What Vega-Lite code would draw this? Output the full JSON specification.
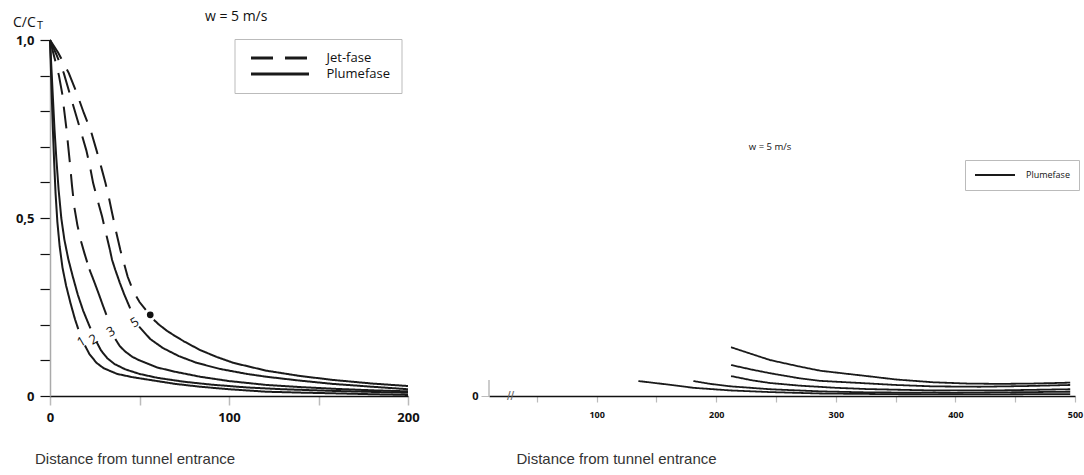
{
  "$schema": "https://vega.github.io/schema/vega-lite/v6.json",
  "padding": {"left": 12, "top": 9, "right": 4, "bottom": 4},
  "background": "white",
  "config": {
    "view": {"stroke": null},
    "axis": {"grid": false, "labelFont": "Open Sans", "labelFontWeight": "bold", "titleFont": "Liberation Sans", "titleFontWeight": "normal", "titleColor": "#333"}
  },
  "datasets": {
    "left": [
      {"s": "1a", "ph": "Plumefase", "x": 0, "y": 1}, {"s": "1a", "ph": "Plumefase", "x": 0.5, "y": 0.92}, {"s": "1a", "ph": "Plumefase", "x": 1, "y": 0.84}, {"s": "1a", "ph": "Plumefase", "x": 1.6, "y": 0.75}, {"s": "1a", "ph": "Plumefase", "x": 2.3, "y": 0.66}, {"s": "1a", "ph": "Plumefase", "x": 3.1, "y": 0.57}, {"s": "1a", "ph": "Plumefase", "x": 4.1, "y": 0.49}, {"s": "1a", "ph": "Plumefase", "x": 5.4, "y": 0.42}, {"s": "1a", "ph": "Plumefase", "x": 7, "y": 0.36}, {"s": "1a", "ph": "Plumefase", "x": 9, "y": 0.31}, {"s": "1a", "ph": "Plumefase", "x": 11.5, "y": 0.26}, {"s": "1a", "ph": "Plumefase", "x": 14, "y": 0.215}, {"s": "1a", "ph": "Plumefase", "x": 15.8, "y": 0.188},
      {"s": "1b", "ph": "Plumefase", "x": 19.5, "y": 0.142}, {"s": "1b", "ph": "Plumefase", "x": 22, "y": 0.118}, {"s": "1b", "ph": "Plumefase", "x": 26, "y": 0.093}, {"s": "1b", "ph": "Plumefase", "x": 30, "y": 0.078}, {"s": "1b", "ph": "Plumefase", "x": 37.5, "y": 0.062}, {"s": "1b", "ph": "Plumefase", "x": 46, "y": 0.053}, {"s": "1b", "ph": "Plumefase", "x": 56, "y": 0.045}, {"s": "1b", "ph": "Plumefase", "x": 70, "y": 0.034}, {"s": "1b", "ph": "Plumefase", "x": 84, "y": 0.026}, {"s": "1b", "ph": "Plumefase", "x": 100, "y": 0.019}, {"s": "1b", "ph": "Plumefase", "x": 121, "y": 0.012}, {"s": "1b", "ph": "Plumefase", "x": 140, "y": 0.0095}, {"s": "1b", "ph": "Plumefase", "x": 158, "y": 0.0076}, {"s": "1b", "ph": "Plumefase", "x": 180, "y": 0.005}, {"s": "1b", "ph": "Plumefase", "x": 200, "y": 0.003},
      {"s": "2a", "ph": "Plumefase", "x": 0, "y": 1}, {"s": "2a", "ph": "Plumefase", "x": 0.8, "y": 0.92}, {"s": "2a", "ph": "Plumefase", "x": 1.6, "y": 0.84}, {"s": "2a", "ph": "Plumefase", "x": 2.5, "y": 0.75}, {"s": "2a", "ph": "Plumefase", "x": 3.5, "y": 0.67}, {"s": "2a", "ph": "Plumefase", "x": 4.8, "y": 0.58}, {"s": "2a", "ph": "Plumefase", "x": 6.3, "y": 0.5}, {"s": "2a", "ph": "Plumefase", "x": 8, "y": 0.44}, {"s": "2a", "ph": "Plumefase", "x": 10.2, "y": 0.385}, {"s": "2a", "ph": "Plumefase", "x": 12.6, "y": 0.338}, {"s": "2a", "ph": "Plumefase", "x": 15.5, "y": 0.285}, {"s": "2a", "ph": "Plumefase", "x": 18.5, "y": 0.24}, {"s": "2a", "ph": "Plumefase", "x": 21.5, "y": 0.203}, {"s": "2a", "ph": "Plumefase", "x": 22.6, "y": 0.19},
      {"s": "2b", "ph": "Plumefase", "x": 26, "y": 0.152}, {"s": "2b", "ph": "Plumefase", "x": 28.5, "y": 0.128}, {"s": "2b", "ph": "Plumefase", "x": 32, "y": 0.106}, {"s": "2b", "ph": "Plumefase", "x": 36, "y": 0.09}, {"s": "2b", "ph": "Plumefase", "x": 42, "y": 0.075}, {"s": "2b", "ph": "Plumefase", "x": 50, "y": 0.062}, {"s": "2b", "ph": "Plumefase", "x": 60, "y": 0.051}, {"s": "2b", "ph": "Plumefase", "x": 75, "y": 0.04}, {"s": "2b", "ph": "Plumefase", "x": 90, "y": 0.032}, {"s": "2b", "ph": "Plumefase", "x": 110, "y": 0.024}, {"s": "2b", "ph": "Plumefase", "x": 130, "y": 0.019}, {"s": "2b", "ph": "Plumefase", "x": 160, "y": 0.014}, {"s": "2b", "ph": "Plumefase", "x": 200, "y": 0.009},
      {"s": "3j", "ph": "Jet-fase", "x": 0, "y": 1}, {"s": "3j", "ph": "Jet-fase", "x": 2.5, "y": 0.95}, {"s": "3j", "ph": "Jet-fase", "x": 5, "y": 0.9}, {"s": "3j", "ph": "Jet-fase", "x": 6.8, "y": 0.85}, {"s": "3j", "ph": "Jet-fase", "x": 8.1, "y": 0.795}, {"s": "3j", "ph": "Jet-fase", "x": 9.2, "y": 0.75}, {"s": "3j", "ph": "Jet-fase", "x": 10.2, "y": 0.7}, {"s": "3j", "ph": "Jet-fase", "x": 11.2, "y": 0.65}, {"s": "3j", "ph": "Jet-fase", "x": 12.3, "y": 0.59}, {"s": "3j", "ph": "Jet-fase", "x": 13.6, "y": 0.53}, {"s": "3j", "ph": "Jet-fase", "x": 15.3, "y": 0.48}, {"s": "3j", "ph": "Jet-fase", "x": 17.3, "y": 0.435}, {"s": "3j", "ph": "Jet-fase", "x": 19.3, "y": 0.4}, {"s": "3j", "ph": "Jet-fase", "x": 21, "y": 0.372}, {"s": "3j", "ph": "Jet-fase", "x": 22, "y": 0.356},
      {"s": "3p", "ph": "Plumefase", "x": 22, "y": 0.356}, {"s": "3p", "ph": "Plumefase", "x": 24.4, "y": 0.325}, {"s": "3p", "ph": "Plumefase", "x": 27, "y": 0.29}, {"s": "3p", "ph": "Plumefase", "x": 29.5, "y": 0.255}, {"s": "3p", "ph": "Plumefase", "x": 31.5, "y": 0.228},
      {"s": "3q", "ph": "Plumefase", "x": 36.5, "y": 0.16}, {"s": "3q", "ph": "Plumefase", "x": 39, "y": 0.14}, {"s": "3q", "ph": "Plumefase", "x": 42, "y": 0.125}, {"s": "3q", "ph": "Plumefase", "x": 46, "y": 0.11}, {"s": "3q", "ph": "Plumefase", "x": 50, "y": 0.1}, {"s": "3q", "ph": "Plumefase", "x": 60, "y": 0.08}, {"s": "3q", "ph": "Plumefase", "x": 70, "y": 0.068}, {"s": "3q", "ph": "Plumefase", "x": 84, "y": 0.054}, {"s": "3q", "ph": "Plumefase", "x": 100, "y": 0.042}, {"s": "3q", "ph": "Plumefase", "x": 121, "y": 0.031}, {"s": "3q", "ph": "Plumefase", "x": 140, "y": 0.025}, {"s": "3q", "ph": "Plumefase", "x": 160, "y": 0.02}, {"s": "3q", "ph": "Plumefase", "x": 180, "y": 0.016}, {"s": "3q", "ph": "Plumefase", "x": 200, "y": 0.013},
      {"s": "5j", "ph": "Jet-fase", "x": 0, "y": 1}, {"s": "5j", "ph": "Jet-fase", "x": 3.5, "y": 0.96}, {"s": "5j", "ph": "Jet-fase", "x": 7.7, "y": 0.907}, {"s": "5j", "ph": "Jet-fase", "x": 11, "y": 0.85}, {"s": "5j", "ph": "Jet-fase", "x": 14.2, "y": 0.795}, {"s": "5j", "ph": "Jet-fase", "x": 17.4, "y": 0.74}, {"s": "5j", "ph": "Jet-fase", "x": 20.3, "y": 0.69}, {"s": "5j", "ph": "Jet-fase", "x": 22.3, "y": 0.645}, {"s": "5j", "ph": "Jet-fase", "x": 24.1, "y": 0.598}, {"s": "5j", "ph": "Jet-fase", "x": 26.6, "y": 0.55}, {"s": "5j", "ph": "Jet-fase", "x": 29.1, "y": 0.504}, {"s": "5j", "ph": "Jet-fase", "x": 31.6, "y": 0.45}, {"s": "5j", "ph": "Jet-fase", "x": 33.5, "y": 0.41},
      {"s": "5p", "ph": "Plumefase", "x": 33.5, "y": 0.41}, {"s": "5p", "ph": "Plumefase", "x": 34.7, "y": 0.382}, {"s": "5p", "ph": "Plumefase", "x": 36.5, "y": 0.354}, {"s": "5p", "ph": "Plumefase", "x": 39, "y": 0.318}, {"s": "5p", "ph": "Plumefase", "x": 41.5, "y": 0.285}, {"s": "5p", "ph": "Plumefase", "x": 44.8, "y": 0.246},
      {"s": "5q", "ph": "Plumefase", "x": 49.8, "y": 0.195}, {"s": "5q", "ph": "Plumefase", "x": 56, "y": 0.16}, {"s": "5q", "ph": "Plumefase", "x": 63, "y": 0.135}, {"s": "5q", "ph": "Plumefase", "x": 72, "y": 0.112}, {"s": "5q", "ph": "Plumefase", "x": 82, "y": 0.093}, {"s": "5q", "ph": "Plumefase", "x": 95, "y": 0.076}, {"s": "5q", "ph": "Plumefase", "x": 110, "y": 0.062}, {"s": "5q", "ph": "Plumefase", "x": 121, "y": 0.054}, {"s": "5q", "ph": "Plumefase", "x": 140, "y": 0.043}, {"s": "5q", "ph": "Plumefase", "x": 158, "y": 0.034}, {"s": "5q", "ph": "Plumefase", "x": 180, "y": 0.026}, {"s": "5q", "ph": "Plumefase", "x": 200, "y": 0.019},
      {"s": "6j", "ph": "Jet-fase", "x": 0, "y": 1}, {"s": "6j", "ph": "Jet-fase", "x": 4.5, "y": 0.965}, {"s": "6j", "ph": "Jet-fase", "x": 10.5, "y": 0.907}, {"s": "6j", "ph": "Jet-fase", "x": 15, "y": 0.85}, {"s": "6j", "ph": "Jet-fase", "x": 18.9, "y": 0.795}, {"s": "6j", "ph": "Jet-fase", "x": 22.8, "y": 0.745}, {"s": "6j", "ph": "Jet-fase", "x": 26, "y": 0.69}, {"s": "6j", "ph": "Jet-fase", "x": 28.5, "y": 0.645}, {"s": "6j", "ph": "Jet-fase", "x": 31, "y": 0.598}, {"s": "6j", "ph": "Jet-fase", "x": 33, "y": 0.555}, {"s": "6j", "ph": "Jet-fase", "x": 34.7, "y": 0.514}, {"s": "6j", "ph": "Jet-fase", "x": 37, "y": 0.46}, {"s": "6j", "ph": "Jet-fase", "x": 39.3, "y": 0.41}, {"s": "6j", "ph": "Jet-fase", "x": 41.5, "y": 0.37}, {"s": "6j", "ph": "Jet-fase", "x": 43.4, "y": 0.335}, {"s": "6j", "ph": "Jet-fase", "x": 46.5, "y": 0.295}, {"s": "6j", "ph": "Jet-fase", "x": 50, "y": 0.264}, {"s": "6j", "ph": "Jet-fase", "x": 53.5, "y": 0.242},
      {"s": "6p", "ph": "Plumefase", "x": 58, "y": 0.214}, {"s": "6p", "ph": "Plumefase", "x": 61, "y": 0.2}, {"s": "6p", "ph": "Plumefase", "x": 65.4, "y": 0.183}, {"s": "6p", "ph": "Plumefase", "x": 70, "y": 0.168}, {"s": "6p", "ph": "Plumefase", "x": 75, "y": 0.153}, {"s": "6p", "ph": "Plumefase", "x": 83.9, "y": 0.129}, {"s": "6p", "ph": "Plumefase", "x": 93, "y": 0.11}, {"s": "6p", "ph": "Plumefase", "x": 102.5, "y": 0.093}, {"s": "6p", "ph": "Plumefase", "x": 121, "y": 0.071}, {"s": "6p", "ph": "Plumefase", "x": 140, "y": 0.056}, {"s": "6p", "ph": "Plumefase", "x": 158.3, "y": 0.045}, {"s": "6p", "ph": "Plumefase", "x": 180, "y": 0.035}, {"s": "6p", "ph": "Plumefase", "x": 200, "y": 0.028}
    ],
    "labels": [
      {"t": "1", "x": 17.6, "y": 0.152},
      {"t": "2", "x": 24.3, "y": 0.158},
      {"t": "3", "x": 34, "y": 0.18},
      {"t": "5", "x": 47.3, "y": 0.206}
    ],
    "right": [
      {"s": "r1", "ph": "Plumefase", "x": 212.4, "y": 0.0274}, {"s": "r1", "ph": "Plumefase", "x": 230, "y": 0.0235}, {"s": "r1", "ph": "Plumefase", "x": 245, "y": 0.0202}, {"s": "r1", "ph": "Plumefase", "x": 270, "y": 0.0165}, {"s": "r1", "ph": "Plumefase", "x": 287, "y": 0.0142}, {"s": "r1", "ph": "Plumefase", "x": 305, "y": 0.0128}, {"s": "r1", "ph": "Plumefase", "x": 326, "y": 0.0112}, {"s": "r1", "ph": "Plumefase", "x": 350, "y": 0.0093}, {"s": "r1", "ph": "Plumefase", "x": 381.6, "y": 0.0077}, {"s": "r1", "ph": "Plumefase", "x": 410, "y": 0.007}, {"s": "r1", "ph": "Plumefase", "x": 437, "y": 0.0068}, {"s": "r1", "ph": "Plumefase", "x": 465, "y": 0.007}, {"s": "r1", "ph": "Plumefase", "x": 496, "y": 0.0075},
      {"s": "r2", "ph": "Plumefase", "x": 212.4, "y": 0.0174}, {"s": "r2", "ph": "Plumefase", "x": 230, "y": 0.0148}, {"s": "r2", "ph": "Plumefase", "x": 245, "y": 0.0128}, {"s": "r2", "ph": "Plumefase", "x": 270, "y": 0.0099}, {"s": "r2", "ph": "Plumefase", "x": 287, "y": 0.0085}, {"s": "r2", "ph": "Plumefase", "x": 326, "y": 0.0071}, {"s": "r2", "ph": "Plumefase", "x": 350, "y": 0.0062}, {"s": "r2", "ph": "Plumefase", "x": 381.6, "y": 0.0054}, {"s": "r2", "ph": "Plumefase", "x": 420, "y": 0.0052}, {"s": "r2", "ph": "Plumefase", "x": 460, "y": 0.0056}, {"s": "r2", "ph": "Plumefase", "x": 496, "y": 0.0062},
      {"s": "r3", "ph": "Plumefase", "x": 212.4, "y": 0.0112}, {"s": "r3", "ph": "Plumefase", "x": 230, "y": 0.0088}, {"s": "r3", "ph": "Plumefase", "x": 245, "y": 0.0073}, {"s": "r3", "ph": "Plumefase", "x": 270, "y": 0.0058}, {"s": "r3", "ph": "Plumefase", "x": 300, "y": 0.0046}, {"s": "r3", "ph": "Plumefase", "x": 326, "y": 0.0039}, {"s": "r3", "ph": "Plumefase", "x": 381.6, "y": 0.0031}, {"s": "r3", "ph": "Plumefase", "x": 440, "y": 0.0032}, {"s": "r3", "ph": "Plumefase", "x": 496, "y": 0.0038},
      {"s": "r4", "ph": "Plumefase", "x": 180.9, "y": 0.0084}, {"s": "r4", "ph": "Plumefase", "x": 195, "y": 0.0068}, {"s": "r4", "ph": "Plumefase", "x": 212.4, "y": 0.0054}, {"s": "r4", "ph": "Plumefase", "x": 245, "y": 0.0038}, {"s": "r4", "ph": "Plumefase", "x": 287, "y": 0.0026}, {"s": "r4", "ph": "Plumefase", "x": 330, "y": 0.002}, {"s": "r4", "ph": "Plumefase", "x": 400, "y": 0.0018}, {"s": "r4", "ph": "Plumefase", "x": 496, "y": 0.0024},
      {"s": "r5", "ph": "Plumefase", "x": 134.9, "y": 0.0084}, {"s": "r5", "ph": "Plumefase", "x": 150, "y": 0.0072}, {"s": "r5", "ph": "Plumefase", "x": 165, "y": 0.006}, {"s": "r5", "ph": "Plumefase", "x": 180.9, "y": 0.0046}, {"s": "r5", "ph": "Plumefase", "x": 212.4, "y": 0.0031}, {"s": "r5", "ph": "Plumefase", "x": 245, "y": 0.0022}, {"s": "r5", "ph": "Plumefase", "x": 287, "y": 0.0014}, {"s": "r5", "ph": "Plumefase", "x": 350, "y": 0.001}, {"s": "r5", "ph": "Plumefase", "x": 420, "y": 0.0009}, {"s": "r5", "ph": "Plumefase", "x": 496, "y": 0.0011}
    ]
  },
  "hconcat": [
    {
      "width": 358,
      "height": 356,
      "layer": [
        {
          "data": {"name": "left"},
          "mark": {"type": "line", "color": "#1a1a1a", "strokeWidth": 2, "clip": false},
          "encoding": {
            "x": {"field": "x", "type": "quantitative", "scale": {"domain": [0, 200], "nice": false, "zero": false},
              "axis": {"values": [0, 50, 100, 150, 200], "tickCount": 20, "labelExpr": "datum.value % 100 == 0 ? datum.label : ''", "labelFlush": false, "labelOverlap": false, "tickSize": 9, "tickColor": "#bbb", "tickWidth": 1.5, "domainColor": "#111", "domainWidth": 1.5, "labelFontSize": 13, "labelPadding": 6, "labelColor": "#111",
                "title": "Distance from tunnel entrance", "titleAnchor": "start", "titleAlign": "left", "titleX": -15.5, "titleY": 67, "titleBaseline": "alphabetic", "titleFontSize": 15}},
            "y": {"field": "y", "type": "quantitative", "scale": {"domain": [0, 1], "nice": false},
              "axis": {"values": [0, 0.1, 0.2, 0.3, 0.4, 0.5, 0.6, 0.7, 0.8, 0.9, 1], "tickCount": 20, "labelExpr": "datum.value == 1 ? '1,0' : (datum.value == 0.5 ? '0,5' : (datum.value == 0 ? '0' : ''))", "labelOverlap": false, "tickSize": 10, "tickColor": "#111", "tickWidth": 1.2, "domainColor": "#aaa", "domainWidth": 1.5, "labelFontSize": 13, "labelPadding": 6, "labelColor": "#111",
                "title": "C/C", "titleAngle": 0, "titleX": -37.5, "titleY": -14, "titleAlign": "left", "titleBaseline": "alphabetic", "titleFont": "Open Sans", "titleFontSize": 14, "titleColor": "#111"}},
            "detail": {"field": "s"},
            "strokeDash": {"field": "ph", "type": "nominal", "scale": {"domain": ["Jet-fase", "Plumefase"], "range": [[22, 12], [1, 0]]},
              "legend": {"orient": "none", "legendX": 184.5, "legendY": -1, "title": null, "symbolType": "stroke", "symbolSize": 3364, "symbolStrokeWidth": 3, "symbolStrokeColor": "#1a1a1a", "labelFontSize": 13, "labelFont": "Open Sans", "labelColor": "#111", "strokeColor": "#bbb", "fillColor": "white", "padding": 11, "clipHeight": 16, "labelOffset": 16, "rowPadding": 0, "symbolOffset": 4}}
          }
        },
        {
          "data": {"name": "labels"},
          "mark": {"type": "text", "font": "Open Sans", "fontSize": 13, "color": "#111", "angle": 330},
          "encoding": {
            "x": {"field": "x", "type": "quantitative", "title": "Distance from tunnel entrance"},
            "y": {"field": "y", "type": "quantitative", "title": "C/C"},
            "text": {"field": "t"}
          }
        },
        {
          "data": {"values": [{}]},
          "mark": {"type": "point", "filled": true, "color": "#111", "size": 45, "opacity": 1},
          "encoding": {"x": {"datum": 56}, "y": {"datum": 0.228}}
        },
        {
          "data": {"values": [{}]},
          "mark": {"type": "text", "text": "w = 5 m/s", "font": "Open Sans", "fontSize": 14, "color": "#111", "align": "center", "baseline": "middle"},
          "encoding": {"x": {"datum": 104}, "y": {"datum": 1.065}}
        },
        {
          "data": {"values": [{}]},
          "mark": {"type": "text", "text": "T", "font": "Open Sans", "fontSize": 11, "color": "#111", "align": "left", "baseline": "alphabetic"},
          "encoding": {"x": {"datum": -7.2}, "y": {"datum": 1.03}}
        }
      ]
    },
    {
      "width": 586,
      "height": 356,
      "layer": [
        {
          "data": {"name": "right"},
          "mark": {"type": "line", "color": "#1a1a1a", "strokeWidth": 1.8, "clip": false},
          "encoding": {
            "x": {"field": "x", "type": "quantitative", "scale": {"domain": [10, 500], "nice": false, "zero": false},
              "axis": {"values": [50, 100, 150, 200, 250, 300, 350, 400, 450, 500], "tickCount": 20, "labelExpr": "datum.value % 100 == 0 ? datum.label : ''", "labelFlush": false, "labelOverlap": false, "tickSize": 6, "tickColor": "#bbb", "tickWidth": 1.2, "domainColor": "#111", "domainWidth": 1.5, "labelFontSize": 9, "labelPadding": 8, "labelColor": "#111",
                "title": "Distance from tunnel entrance", "titleAnchor": "start", "titleAlign": "left", "titleX": 27, "titleY": 67, "titleBaseline": "alphabetic", "titleFontSize": 15}},
            "y": {"field": "y", "type": "quantitative", "scale": {"domain": [0, 0.2], "nice": false},
              "axis": {"values": [0], "labelExpr": "'0'", "tickSize": 8, "tickColor": "#bbb", "domain": false, "labelFontSize": 11, "labelPadding": 3, "labelColor": "#111", "title": null}},
            "detail": {"field": "s"},
            "strokeDash": {"field": "ph", "type": "nominal", "scale": {"domain": ["Plumefase"], "range": [[1, 0]]},
              "legend": {"orient": "none", "legendX": 476, "legendY": 120, "title": null, "symbolType": "stroke", "symbolSize": 1600, "symbolStrokeWidth": 2, "symbolStrokeColor": "#1a1a1a", "labelFontSize": 9, "labelFont": "Open Sans", "labelColor": "#111", "strokeColor": "#bbb", "fillColor": "white", "padding": 9, "clipHeight": 12, "labelOffset": 10, "symbolOffset": 0}}
          }
        },
        {
          "data": {"values": [{}]},
          "mark": {"type": "rule", "color": "#aaa", "strokeWidth": 1.2},
          "encoding": {"x": {"datum": 10}, "y": {"datum": 0}, "y2": {"datum": 0.009}}
        },
        {
          "data": {"values": [{}]},
          "mark": {"type": "text", "text": "//", "font": "Liberation Sans", "fontSize": 13, "color": "#666", "align": "center", "baseline": "middle"},
          "encoding": {"x": {"datum": 28}, "y": {"datum": 0}}
        },
        {
          "data": {"values": [{}]},
          "mark": {"type": "text", "text": "w = 5 m/s", "font": "Open Sans", "fontSize": 9.5, "color": "#111", "align": "center", "baseline": "middle"},
          "encoding": {"x": {"datum": 245}, "y": {"datum": 0.14}}
        }
      ]
    }
  ],
  "spacing": 81,
  "bounds": "flush",
  "resolve": {"scale": {"strokeDash": "independent", "x": "independent", "y": "independent"}, "legend": {"strokeDash": "independent"}}
}
